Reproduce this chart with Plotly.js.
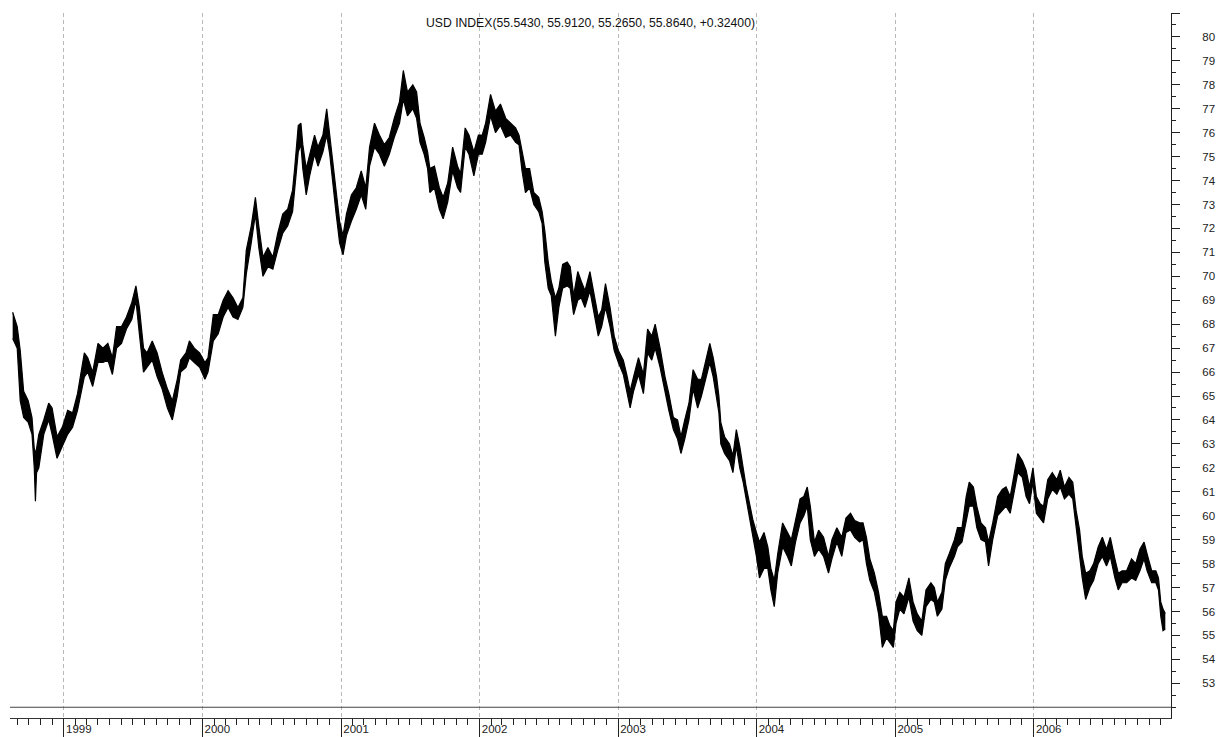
<!DOCTYPE html>
<html>
<head>
<meta charset="utf-8">
<script src="https://cdn.plot.ly/plotly-3.0.1.min.js"></script>
<style>html,body{margin:0;padding:0;background:#fff;}#chart{width:1217px;height:737px;}</style>
</head>
<body>
<div id="chart"></div>
<script>
const dates = [
'1998-08-19','1998-08-31','1998-09-08','1998-09-17','1998-09-29','1998-10-09','1998-10-15','1998-10-18','1998-10-21','1998-10-27',
'1998-11-09','1998-11-22','1998-12-01','1998-12-14','1998-12-28','1999-01-11','1999-01-24','1999-02-06','1999-02-24','1999-03-05',
'1999-03-18','1999-04-01','1999-04-14','1999-04-27','1999-05-09','1999-05-20','1999-06-02','1999-06-15','1999-06-29','1999-07-10',
'1999-07-19','1999-07-30','1999-08-08','1999-08-22','1999-09-04','1999-09-17','1999-10-01','1999-10-14','1999-10-27','1999-11-05',
'1999-11-19','1999-11-28','1999-12-11','1999-12-25','2000-01-08','2000-01-16','2000-01-30','2000-02-12','2000-02-25','2000-03-09',
'2000-03-22','2000-04-04','2000-04-17','2000-04-26','2000-05-09','2000-05-20','2000-05-29','2000-06-09','2000-06-22','2000-07-05',
'2000-07-18','2000-07-31','2000-08-13','2000-08-26','2000-09-01','2000-09-10','2000-09-17','2000-09-22','2000-10-01','2000-10-10',
'2000-10-23','2000-11-01','2000-11-14','2000-11-24','2000-12-02','2000-12-10','2000-12-19','2000-12-28','2001-01-06','2001-01-15',
'2001-01-28','2001-02-10','2001-02-23','2001-03-07','2001-03-17','2001-03-30','2001-04-12','2001-04-25','2001-05-08','2001-05-21',
'2001-06-04','2001-06-14','2001-06-25','2001-07-09','2001-07-19','2001-07-28','2001-08-08','2001-08-17','2001-08-23','2001-09-04',
'2001-09-17','2001-09-27','2001-10-09','2001-10-22','2001-11-04','2001-11-12','2001-11-24','2001-12-04','2001-12-17','2001-12-29',
'2002-01-08','2002-01-17','2002-01-30','2002-02-12','2002-02-25','2002-03-11','2002-03-24','2002-04-06','2002-04-15','2002-04-23',
'2002-05-02','2002-05-13','2002-05-24','2002-06-06','2002-06-15','2002-06-22','2002-07-01','2002-07-09','2002-07-20','2002-07-29',
'2002-08-08','2002-08-20','2002-08-28','2002-09-06','2002-09-17','2002-09-26','2002-10-06','2002-10-19','2002-11-01','2002-11-10',
'2002-11-19','2002-11-29','2002-12-11','2002-12-22','2003-01-02','2003-01-15','2003-01-24','2003-02-02','2003-02-11','2003-02-24',
'2003-03-09','2003-03-20','2003-03-31','2003-04-09','2003-04-22','2003-05-05','2003-05-15','2003-05-27','2003-06-07','2003-06-16',
'2003-06-26','2003-07-07','2003-07-18','2003-07-30','2003-08-09','2003-08-20','2003-08-31','2003-09-09','2003-09-18','2003-09-24',
'2003-09-29','2003-10-09','2003-10-22','2003-10-31','2003-11-09','2003-11-18','2003-11-27','2003-12-05','2003-12-14','2003-12-23',
'2004-01-01','2004-01-09','2004-01-21','2004-01-31','2004-02-08','2004-02-17','2004-02-26','2004-03-10','2004-03-23','2004-04-02',
'2004-04-13','2004-04-25','2004-05-05','2004-05-14','2004-05-22','2004-06-02','2004-06-13','2004-06-26','2004-07-09','2004-07-18',
'2004-07-31','2004-08-13','2004-08-24','2004-09-05','2004-09-16','2004-09-29','2004-10-08','2004-10-17','2004-10-26','2004-11-07',
'2004-11-18','2004-11-28','2004-12-09','2004-12-18','2004-12-27','2005-01-03','2005-01-13','2005-01-24','2005-02-06','2005-02-17',
'2005-02-28','2005-03-12','2005-03-23','2005-04-05','2005-04-14','2005-04-22','2005-05-04','2005-05-13','2005-05-23','2005-06-06',
'2005-06-14','2005-06-26','2005-07-07','2005-07-15','2005-07-26','2005-08-04','2005-08-15','2005-08-27','2005-09-04','2005-09-15',
'2005-09-28','2005-10-10','2005-10-20','2005-10-31','2005-11-09','2005-11-20','2005-12-02','2005-12-12','2005-12-21','2005-12-30',
'2006-01-08','2006-01-18','2006-01-27','2006-02-07','2006-02-19','2006-03-03','2006-03-12','2006-03-23','2006-04-04','2006-04-14',
'2006-04-23','2006-05-02','2006-05-09','2006-05-18','2006-05-29','2006-06-08','2006-06-20','2006-07-01','2006-07-12','2006-07-22',
'2006-08-03','2006-08-12','2006-08-22','2006-09-03','2006-09-16','2006-09-27','2006-10-08','2006-10-19','2006-10-27','2006-11-08',
'2006-11-19','2006-11-26','2006-12-02','2006-12-08','2006-12-14'
];
const highs = [
68.5,67.9,66.9,65.2,64.8,64.1,62.8,62.6,62.8,63.4,
64.0,64.7,64.5,63.3,63.7,64.4,64.3,65.1,66.8,66.6,
66.0,67.2,67.0,67.2,66.6,67.9,67.9,68.3,68.9,69.6,
68.7,67.0,66.8,67.3,66.8,66.0,65.3,64.8,65.7,66.5,
66.8,67.3,67.0,66.8,66.4,66.6,68.4,68.4,69.0,69.4,
69.1,68.7,69.1,71.1,72.1,73.3,72.1,70.8,71.2,70.8,
71.8,72.6,72.8,73.6,74.6,76.3,76.4,75.5,74.5,75.1,
75.9,75.4,75.9,77.0,75.9,74.6,73.4,72.3,71.7,72.6,
73.4,73.7,74.4,73.7,75.4,76.4,75.9,75.5,75.8,76.6,
77.3,78.6,77.7,78.0,77.7,76.4,75.8,75.2,74.5,74.6,
73.7,73.3,73.9,75.4,74.6,74.3,76.2,75.9,75.2,75.9,
75.9,76.4,77.6,76.9,77.2,76.6,76.4,76.2,75.9,75.2,
74.5,74.5,73.5,73.3,72.7,71.9,70.6,69.8,69.1,69.5,
70.5,70.6,70.4,69.2,70.2,69.8,69.4,70.2,69.1,68.3,
68.6,69.7,68.7,67.5,66.9,66.5,65.9,65.2,65.8,66.6,
65.9,67.8,67.5,68.0,67.0,65.8,65.1,64.1,64.0,63.3,
64.0,64.7,66.1,65.7,65.7,66.5,67.2,66.6,65.8,65.0,
63.9,63.3,63.0,62.5,63.6,62.9,61.9,61.2,60.5,59.8,
59.3,58.9,59.3,58.7,57.8,57.3,58.4,59.7,59.3,59.0,
59.8,60.7,60.8,61.2,60.4,58.9,59.4,59.1,58.3,59.0,
59.5,59.1,59.9,60.1,59.8,59.7,59.7,59.1,58.2,57.6,
56.8,55.8,55.8,55.4,55.2,56.4,56.8,56.6,57.4,56.4,
55.9,55.6,56.9,57.2,57.0,56.4,56.8,58.0,58.4,59.0,
59.5,59.5,60.8,61.4,61.2,60.4,59.7,59.5,58.9,59.7,
60.8,61.1,61.2,60.8,61.6,62.6,62.3,61.9,61.2,62.0,
60.8,60.5,60.4,61.5,61.8,61.5,61.9,61.2,61.6,61.4,
60.2,59.4,58.3,57.6,57.7,58.0,58.7,59.1,58.6,59.1,
58.2,57.6,57.7,57.7,58.2,58.0,58.6,58.9,58.4,57.7,
57.7,57.4,56.4,56.1,55.912
];
const lows = [
67.4,67.0,64.8,64.1,63.9,63.4,62.0,60.6,61.8,62.0,
63.4,64.0,63.4,62.4,62.9,63.4,63.7,64.4,65.8,66.0,
65.4,66.4,66.4,66.5,65.9,67.0,67.2,67.8,68.2,69.0,
67.6,66.0,66.2,66.5,65.8,65.3,64.5,64.0,65.0,66.0,
66.2,66.6,66.4,66.2,65.7,66.0,67.3,67.6,68.3,68.7,
68.3,68.2,68.7,70.1,71.4,72.6,71.2,70.0,70.4,70.3,
71.1,71.8,72.1,72.7,73.7,75.2,75.5,74.5,73.4,74.2,
75.1,74.6,75.2,75.9,75.1,73.8,72.6,71.4,70.9,71.7,
72.3,72.8,73.4,72.8,74.6,75.4,75.1,74.6,75.1,75.8,
76.4,77.4,76.7,77.0,76.6,75.6,75.1,74.5,73.5,73.7,
72.8,72.4,73.1,74.4,73.7,73.5,75.4,75.1,74.2,75.1,
75.1,75.6,76.7,76.0,76.3,75.8,75.9,75.6,75.5,74.4,
73.5,73.7,73.0,72.7,72.2,70.6,69.5,69.2,67.5,68.7,
69.5,69.6,69.5,68.4,69.0,69.1,68.7,69.4,68.3,67.5,
67.9,68.7,67.9,66.9,66.4,65.9,65.2,64.5,65.2,65.9,
65.1,66.8,66.5,67.0,66.2,65.1,64.4,63.6,63.2,62.6,
63.2,64.0,65.3,64.5,65.0,65.7,66.4,65.8,65.0,64.3,
63.0,62.6,62.3,61.8,62.9,62.0,61.4,60.7,60.0,59.1,
58.3,57.4,57.8,57.8,56.9,56.2,57.6,58.7,58.3,57.9,
58.9,59.7,60.0,60.4,59.0,58.3,58.6,58.3,57.6,58.2,
58.9,58.3,59.3,59.4,59.1,58.9,59.0,58.0,57.3,56.8,
55.9,54.5,54.9,54.7,54.5,55.5,56.1,55.9,56.6,55.6,
55.2,55.0,56.2,56.5,56.4,55.8,56.1,57.3,57.8,58.3,
58.7,58.9,59.8,60.4,60.4,59.5,59.0,58.9,57.9,59.0,
60.0,60.2,60.4,60.1,60.8,61.8,61.6,60.8,60.5,61.4,
60.1,59.9,59.7,60.7,61.1,60.9,61.2,60.7,60.9,60.7,
59.5,58.5,57.4,56.5,57.0,57.3,58.0,58.3,57.9,58.3,
57.4,56.9,57.2,57.2,57.4,57.3,57.7,58.2,57.7,57.2,
57.2,56.9,55.8,55.2,55.265
];
// Axis ticks and labels
const yTickVals = [53,54,55,56,57,58,59,60,61,62,63,64,65,66,67,68,69,70,71,72,73,74,75,76,77,78,79,80,81];
const yTickText = ['53','54','55','56','57','58','59','60','61','62','63','64','65','66','67','68','69','70','71','72','73','74','75','76','77','78','79','80',''];
const yearTicks = ['1999-01-01','2000-01-01','2001-01-01','2002-01-01','2003-01-01','2004-01-01','2005-01-01','2006-01-01'];
const yearLabels = ['1999','2000','2001','2002','2003','2004','2005','2006'];
const lastBar = ['55.5430','55.9120','55.2650','55.8640','+0.32400'];
const titleText = 'USD INDEX(' + lastBar.join(', ') + ')';

const FONT = 'Liberation Sans, Arial, Helvetica, sans-serif';

const traces = [
  {type:'scatter', mode:'lines', x:dates, y:lows, line:{color:'#000', width:1.2}, hoverinfo:'skip', showlegend:false},
  {type:'scatter', mode:'lines', x:dates, y:highs, fill:'tonexty', fillcolor:'#000', line:{color:'#000', width:1.2}, hoverinfo:'skip', showlegend:false}
];

const layout = {
  width:1217, height:737,
  margin:{l:10, r:46, t:13, b:19, pad:0},
  paper_bgcolor:'#fff', plot_bgcolor:'#fff',
  showlegend:false,
  title:{text:titleText, x:0.5, xref:'paper', xanchor:'center', y:1-23/737, yref:'container', yanchor:'middle',
         font:{family:FONT, size:12.2, color:'#111'}},
  xaxis:{
    type:'date', range:['1998-08-12','2006-12-29'], automargin:false,
    tickmode:'array', tickvals:yearTicks, ticktext:yearLabels,
    ticks:'outside', ticklen:19, tickwidth:1, tickcolor:'#222',
    ticklabelshift:15, ticklabelstandoff:-19,
    tickfont:{family:FONT, size:11.5, color:'#222'},
    showline:true, linecolor:'#333', linewidth:1,
    showgrid:true, gridcolor:'#b8b8b8', griddash:'4px,3px', gridwidth:1,
    zeroline:false,
    minor:{dtick:'M1', tick0:'1999-01-01', ticks:'outside', ticklen:6, tickwidth:1, tickcolor:'#222', showgrid:false}
  },
  yaxis:{
    side:'right', range:[51.55, 81], automargin:false,
    tickmode:'array', tickvals:yTickVals, ticktext:yTickText,
    ticks:'outside', ticklen:8, tickwidth:1, tickcolor:'#222',
    ticklabelstandoff:20,
    tickfont:{family:FONT, size:11.5, color:'#222'},
    showline:true, linecolor:'#222', linewidth:1,
    showgrid:false, zeroline:false,
    minor:{dtick:0.5, tick0:0, ticks:'outside', ticklen:4, tickwidth:1, tickcolor:'#222', showgrid:false}
  },
  shapes:[
    {type:'line', xref:'paper', x0:0, x1:1, yref:'y', y0:52, y1:52, line:{color:'#444', width:1.2}, layer:'above'}
  ]
};

Plotly.newPlot('chart', traces, layout, {displayModeBar:false, staticPlot:true});
</script>
</body>
</html>
